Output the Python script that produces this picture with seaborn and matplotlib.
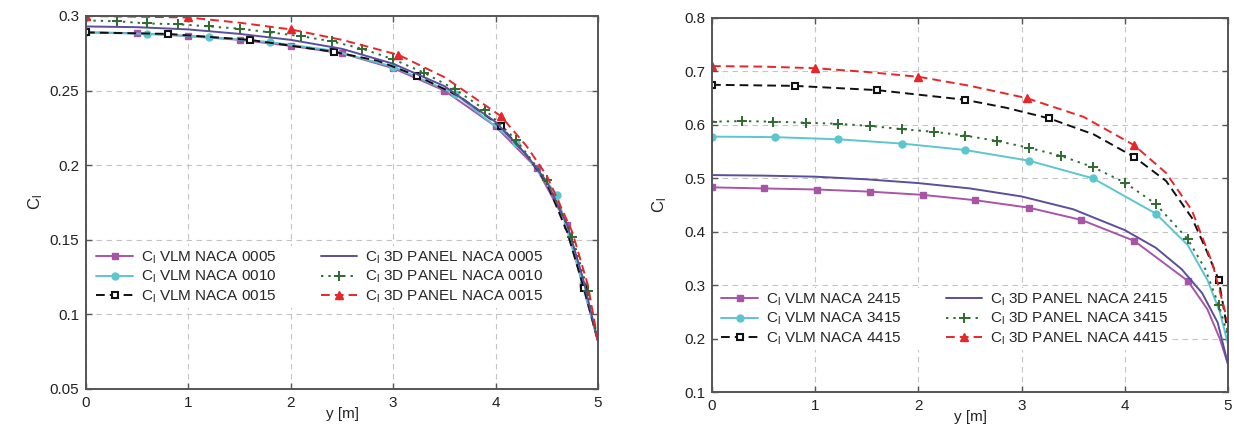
import matplotlib
matplotlib.use("Agg")
import matplotlib.pyplot as plt
import seaborn as sns
from matplotlib.ticker import FuncFormatter, MultipleLocator

# ---------------- Left panel: symmetric NACA 00xx ----------------
L_VLM0005_Y = [0, 0.5, 1.0, 1.5, 2.0, 2.5, 3.0, 3.5, 4.0, 4.4, 4.7, 4.85, 5.0]
L_VLM0005_CL = [0.289, 0.2885, 0.2865, 0.284, 0.280, 0.275, 0.265, 0.250, 0.226, 0.198, 0.160, 0.120, 0.082]

L_VLM0010_Y = [0, 0.6, 1.2, 1.8, 2.4, 3.0, 3.6, 4.2, 4.6, 4.85, 5.0]
L_VLM0010_CL = [0.289, 0.288, 0.286, 0.2825, 0.277, 0.266, 0.248, 0.215, 0.180, 0.120, 0.082]

L_VLM0015_Y = [0, 0.8, 1.6, 2.42, 2.85, 3.23, 3.65, 4.05, 4.3, 4.5, 4.7, 4.86, 5.0]
L_VLM0015_CL = [0.289, 0.288, 0.284, 0.276, 0.270, 0.260, 0.246, 0.226, 0.207, 0.188, 0.155, 0.118, 0.082]

L_PAN0005_Y = [0, 0.5, 1.0, 1.5, 2.0, 2.5, 3.0, 3.5, 4.0, 4.3, 4.5, 4.7, 4.85, 5.0]
L_PAN0005_CL = [0.293, 0.2925, 0.291, 0.288, 0.284, 0.278, 0.268, 0.253, 0.229, 0.207, 0.189, 0.160, 0.125, 0.082]

L_PAN0010_Y = [0, 0.3, 0.6, 0.9, 1.2, 1.5, 1.8, 2.1, 2.4, 2.7, 3.0, 3.3, 3.6, 3.9, 4.2, 4.5, 4.75, 4.9, 5.0]
L_PAN0010_CL = [0.297, 0.2965, 0.295, 0.2945, 0.293, 0.2915, 0.289, 0.2865, 0.283, 0.278, 0.271, 0.262,
                0.251, 0.237, 0.217, 0.190, 0.152, 0.116, 0.082]

L_PAN0015_Y = [0, 0.5, 1.0, 1.5, 2.0, 2.5, 3.05, 3.5, 4.05, 4.3, 4.5, 4.75, 4.9, 5.0]
L_PAN0015_CL = [0.300, 0.2995, 0.299, 0.2955, 0.291, 0.284, 0.274, 0.259, 0.233, 0.213, 0.193, 0.155, 0.120, 0.082]

LEFT_LABELS = ["VLM NACA 0005", "VLM NACA 0010", "VLM NACA 0015",
               "3D PANEL NACA 0005", "3D PANEL NACA 0010", "3D PANEL NACA 0015"]

# ---------------- Right panel: cambered NACA x415 ----------------
R_VLM2415_Y = [0, 0.5, 1.02, 1.53, 2.04, 2.55, 3.07, 3.58, 4.09, 4.61, 4.8, 4.92, 5.0]
R_VLM2415_CL = [0.483, 0.481, 0.479, 0.475, 0.469, 0.459, 0.445, 0.422, 0.383, 0.308, 0.255, 0.200, 0.152]

R_VLM3415_Y = [0, 0.61, 1.22, 1.84, 2.45, 3.07, 3.69, 4.30, 4.61, 4.8, 4.92, 5.0]
R_VLM3415_CL = [0.578, 0.577, 0.573, 0.565, 0.553, 0.533, 0.500, 0.434, 0.375, 0.310, 0.250, 0.190]

R_VLM4415_Y = [0, 0.8, 1.6, 2.45, 2.85, 3.27, 3.7, 4.09, 4.4, 4.65, 4.78, 4.91, 5.0]
R_VLM4415_CL = [0.675, 0.673, 0.665, 0.647, 0.632, 0.612, 0.582, 0.540, 0.495, 0.426, 0.370, 0.310, 0.210]

R_PAN2415_Y = [0, 0.5, 1.0, 1.5, 2.0, 2.5, 3.0, 3.5, 4.0, 4.3, 4.55, 4.75, 4.9, 5.0]
R_PAN2415_CL = [0.506, 0.505, 0.503, 0.498, 0.491, 0.481, 0.466, 0.442, 0.403, 0.370, 0.330, 0.285, 0.230, 0.152]

R_PAN3415_Y = [0, 0.29, 0.59, 0.91, 1.22, 1.53, 1.84, 2.15, 2.45, 2.76, 3.07, 3.38, 3.69, 4.0, 4.30,
               4.61, 4.78, 4.91, 5.0]
R_PAN3415_CL = [0.606, 0.607, 0.606, 0.604, 0.602, 0.598, 0.592, 0.587, 0.580, 0.570, 0.557, 0.542,
                0.521, 0.492, 0.452, 0.386, 0.330, 0.263, 0.205]

R_PAN4415_Y = [0, 0.5, 1.0, 1.5, 2.0, 2.5, 3.05, 3.6, 4.09, 4.4, 4.65, 4.85, 5.0]
R_PAN4415_CL = [0.710, 0.709, 0.706, 0.699, 0.690, 0.673, 0.650, 0.615, 0.562, 0.510, 0.440, 0.340, 0.230]

RIGHT_LABELS = ["VLM NACA 2415", "VLM NACA 3415", "VLM NACA 4415",
                "3D PANEL NACA 2415", "3D PANEL NACA 3415", "3D PANEL NACA 4415"]

# ---------------- styling ----------------
sns.set_theme(style="white")
plt.rcParams["font.family"] = ["Liberation Sans", "DejaVu Sans"]
plt.rcParams["mathtext.fontset"] = "custom"
plt.rcParams["mathtext.rm"] = "Liberation Sans"
plt.rcParams["mathtext.it"] = "Liberation Sans"

PURPLE = "#a855a8"
CYAN = "#5cc6cf"
BLACK = "#111111"
NAVY = "#5b4e9c"
GREEN = "#2f6a31"
RED = "#e8262a"

DASH = (0, (4.5, 2.6))
DOT = (0, (1.2, 2.6))

STYLES = [
    dict(color=PURPLE, linestyle="-", marker="s", markersize=5, mfc=PURPLE, mew=1.0),
    dict(color=CYAN, linestyle="-", marker="o", markersize=5, mfc=CYAN, mew=1.0),
    dict(color=BLACK, linestyle=DASH, marker="s", markersize=5, mfc="white", mew=1.5),
    dict(color=NAVY, linestyle="-", marker=None, markersize=0, mfc=NAVY, mew=1.0),
    dict(color=GREEN, linestyle=DOT, marker="+", markersize=7, mfc=GREEN, mew=1.4),
    dict(color=RED, linestyle=DASH, marker="^", markersize=6, mfc=RED, mew=1.0),
]

LEFT_MEV = [list(range(1, 12)), list(range(0, 10)), [0, 1, 2, 3, 5, 7, 11], None,
            list(range(0, 18)), [0, 2, 4, 6, 8]]
RIGHT_MEV = [list(range(0, 10)), list(range(0, 8)), [0, 1, 2, 3, 5, 7, 11], None,
             [i for i in range(0, 18) if i != 16], [0, 2, 4, 6, 8]]

fig = plt.figure(figsize=(12.34, 4.34), dpi=100)
axL = fig.add_axes([86 / 1234, 1 - 389 / 434, 512 / 1234, 373 / 434])
axR = fig.add_axes([712 / 1234, 1 - 392 / 434, 516 / 1234, 374 / 434])


def draw(ax, xs, ys, st, mev, label):
    kw = dict(color=st["color"], linestyle=st["linestyle"], linewidth=1.4)
    if st["marker"] is not None:
        kw.update(marker=st["marker"], markersize=st["markersize"], markerfacecolor=st["mfc"],
                  markeredgecolor=st["color"], markeredgewidth=st["mew"], markevery=mev)
    sns.lineplot(x=xs, y=ys, ax=ax, sort=False, estimator=None, legend=False,
                 label="C$_\\mathregular{l}$ " + label, **kw)


LEFT_DATA = [(L_VLM0005_Y, L_VLM0005_CL), (L_VLM0010_Y, L_VLM0010_CL), (L_VLM0015_Y, L_VLM0015_CL),
             (L_PAN0005_Y, L_PAN0005_CL), (L_PAN0010_Y, L_PAN0010_CL), (L_PAN0015_Y, L_PAN0015_CL)]
RIGHT_DATA = [(R_VLM2415_Y, R_VLM2415_CL), (R_VLM3415_Y, R_VLM3415_CL), (R_VLM4415_Y, R_VLM4415_CL),
              (R_PAN2415_Y, R_PAN2415_CL), (R_PAN3415_Y, R_PAN3415_CL), (R_PAN4415_Y, R_PAN4415_CL)]

for (xs, ys), st, mev, lab in zip(LEFT_DATA, STYLES, LEFT_MEV, LEFT_LABELS):
    draw(axL, xs, ys, st, mev, lab)
for (xs, ys), st, mev, lab in zip(RIGHT_DATA, STYLES, RIGHT_MEV, RIGHT_LABELS):
    draw(axR, xs, ys, st, mev, lab)

fmt = FuncFormatter(lambda v, p: "%g" % round(v, 4))
for ax, (y0, y1, step), ylpad in ((axL, (0.05, 0.3, 0.05), 3), (axR, (0.1, 0.8, 0.1), 11)):
    ax.set_xlim(0, 5)
    ax.set_ylim(y0, y1)
    ax.xaxis.set_major_locator(MultipleLocator(1))
    ax.yaxis.set_major_locator(MultipleLocator(step))
    ax.yaxis.set_major_formatter(fmt)
    ax.grid(True, linestyle=(0, (5, 4)), color="#c4c4c4", linewidth=0.8)
    ax.set_axisbelow(True)
    for s in ax.spines.values():
        s.set_color("#555555")
        s.set_linewidth(1.4)
    ax.tick_params(direction="in", length=4, width=1, colors="#555555", labelcolor="#222222",
                   labelsize=11, top=True, right=True, left=True, bottom=True, pad=5)
    ax.set_xlabel("y [m]", fontsize=11, color="#222222", labelpad=-2)
    ax.set_ylabel("C$_\\mathregular{l}$", fontsize=12, color="#222222", labelpad=ylpad)

legL = axL.legend(ncol=2, loc="center left", bbox_to_anchor=(0.014, 0.300), fontsize=11,
                  frameon=True, facecolor="white", edgecolor="none", framealpha=1,
                  handlelength=2.4, handletextpad=0.5, columnspacing=2.9, labelspacing=0.22,
                  borderpad=0.2, borderaxespad=0)
legR = axR.legend(ncol=2, loc="center left", bbox_to_anchor=(0.012, 0.195), fontsize=11,
                  frameon=True, facecolor="white", edgecolor="none", framealpha=1,
                  handlelength=2.4, handletextpad=0.5, columnspacing=2.9, labelspacing=0.22,
                  borderpad=0.2, borderaxespad=0)

fig.savefig("out.png", dpi=100)
